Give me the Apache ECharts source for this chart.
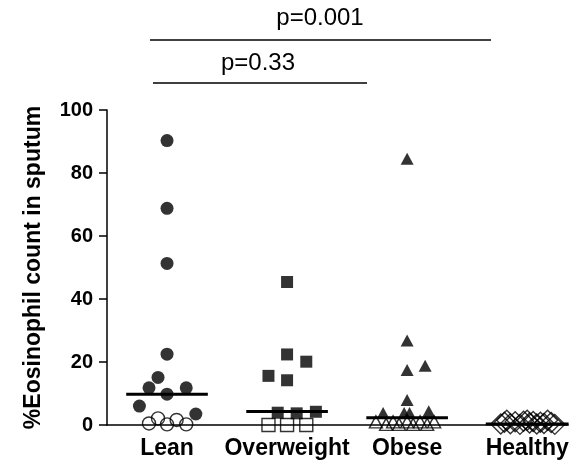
<!DOCTYPE html>
<html>
<head>
<meta charset="utf-8">
<script src="https://cdn.jsdelivr.net/npm/echarts@6/dist/echarts.min.js"></script>
<style>html,body{margin:0;padding:0;background:#fff}#c{width:574px;height:460px}</style>
</head>
<body>
<div id="c"></div>
<script>
const categories = ['Lean', 'Overweight', 'Obese', 'Healthy'];
const yTicks = [0, 20, 40, 60, 80, 100];

// jitter offsets (category units) and values
const leanFilledX = [0, 0, 0, 0, -0.075, -0.15, 0.16, 0, -0.23, 0.24];
const leanFilledY = [90.3, 68.8, 51.3, 22.5, 15.1, 11.8, 11.8, 9.8, 6.0, 3.5];
const leanOpenX = [-0.15, -0.075, 0, 0.08, 0.16];
const leanOpenY = [0.5, 2.1, 0.2, 1.6, 0.2];

const overFilledX = [0, 0, 0.16, -0.155, 0, -0.078, 0.08, 0.24];
const overFilledY = [45.4, 22.4, 20.1, 15.6, 14.2, 3.9, 3.7, 4.2];
const overOpenX = [-0.155, 0, 0.16];
const overOpenY = [0, 0, 0];

const obeseFilledX = [0, 0, 0, 0.15, 0, -0.2, -0.025, 0.02, 0.18];
const obeseFilledY = [84.5, 26.8, 17.5, 18.8, 7.9, 3.8, 3.8, 3.8, 4.4];
const obeseOpenX = [-0.26, -0.175, -0.117, -0.067, 0, 0.05, 0.108, 0.167, 0.225];
const obeseOpenY = [1.0, 0.2, 1.0, 0.2, 1.0, 0.2, 1.0, 0.2, 1.0];

const healthyX = [-0.22, -0.19, -0.17, -0.14, -0.1, -0.06, -0.03, 0, 0.02, 0.05, 0.08, 0.11, 0.14, 0.17, 0.2, 0.23];
const healthyY = [0.3, 0.9, 1.5, 0.4, 1.0, 0.2, 1.2, 1.5, 0.6, 1.1, 0.3, 0.9, 0.5, 1.5, 0.8, 0.2];

const medians = [9.8, 4.3, 2.3, 0.3];
const medianHalf = [0.34, 0.34, 0.34, 0.345];

function pts(cat, xs, ys) {
  return xs.map((dx, i) => [cat + 1 + dx, ys[i]]);
}

const openStyle = { color: 'rgba(0,0,0,0)', borderColor: '#000', borderWidth: 1.4 };
const filledStyle = { color: '#000' };
const font = '"Liberation Sans", Arial, sans-serif';

const series = [
  { type: 'scatter', symbol: 'circle', symbolSize: 13, itemStyle: openStyle, data: pts(0, leanOpenX, leanOpenY), z: 2 },
  { type: 'scatter', symbol: 'rect', symbolSize: 13, itemStyle: openStyle, data: pts(1, overOpenX, overOpenY), z: 2 },
  { type: 'scatter', symbol: 'triangle', symbolSize: [13, 12], itemStyle: openStyle, data: pts(2, obeseOpenX, obeseOpenY), z: 2 },
  { type: 'scatter', symbol: 'diamond', symbolSize: 20, itemStyle: openStyle, data: pts(3, healthyX, healthyY), z: 2 }
];
medians.forEach((m, i) => {
  series.push({
    type: 'line', symbol: 'none', silent: true, z: 3,
    lineStyle: { color: '#000', width: 3 },
    data: [[i + 1 - medianHalf[i], m], [i + 1 + medianHalf[i], m]]
  });
});
series.push(
  { type: 'scatter', symbol: 'circle', symbolSize: 13, itemStyle: filledStyle, data: pts(0, leanFilledX, leanFilledY), z: 4 },
  { type: 'scatter', symbol: 'rect', symbolSize: 12, itemStyle: filledStyle, data: pts(1, overFilledX, overFilledY), z: 4 },
  { type: 'scatter', symbol: 'triangle', symbolSize: [13, 12], itemStyle: filledStyle, data: pts(2, obeseFilledX, obeseFilledY), z: 4 }
);

const chart = echarts.init(document.getElementById('c'), null, { renderer: 'canvas' });
chart.setOption({
  animation: false,
  backgroundColor: '#fff',
  grid: { left: 107, top: 110, width: 461, height: 315, containLabel: false, outerBoundsMode: 'none' },
  xAxis: {
    type: 'value', min: 0.5, max: 4.34,
    axisLine: { show: true, onZero: false, lineStyle: { color: '#000', width: 1.5 } },
    axisTick: { show: false },
    splitLine: { show: false },
    axisLabel: {
      customValues: [1, 2, 3, 4],
      formatter: v => categories[Math.round(v) - 1] || '',
      color: '#000', fontSize: 23, fontWeight: 'bold', fontFamily: font, margin: 12
    }
  },
  yAxis: {
    type: 'value', min: 0, max: 100, interval: 20,
    name: '%Eosinophil count in sputum', nameLocation: 'middle', nameGap: 62,
    nameTextStyle: { color: '#000', fontSize: 23, fontWeight: 'bold', fontFamily: font },
    axisLine: { show: true, lineStyle: { color: '#000', width: 1.5 } },
    axisTick: { show: true, length: 8, lineStyle: { color: '#000', width: 1.5 } },
    splitLine: { show: false },
    axisLabel: {
      color: '#000', fontSize: 20, fontWeight: 'bold', fontFamily: font, margin: 14,
      formatter: v => yTicks.indexOf(v) >= 0 ? String(v) : ''
    }
  },
  graphic: [
    { type: 'line', shape: { x1: 150, y1: 40, x2: 491, y2: 40 }, style: { stroke: '#000', lineWidth: 1.5 } },
    { type: 'text', x: 320, y: 18, style: { text: 'p=0.001', fill: '#000', font: '24px ' + font, align: 'center', verticalAlign: 'middle' } },
    { type: 'line', shape: { x1: 153, y1: 83, x2: 367, y2: 83 }, style: { stroke: '#000', lineWidth: 1.5 } },
    { type: 'text', x: 258, y: 63, style: { text: 'p=0.33', fill: '#000', font: '24px ' + font, align: 'center', verticalAlign: 'middle' } }
  ],
  series: series
});
</script>
</body>
</html>
